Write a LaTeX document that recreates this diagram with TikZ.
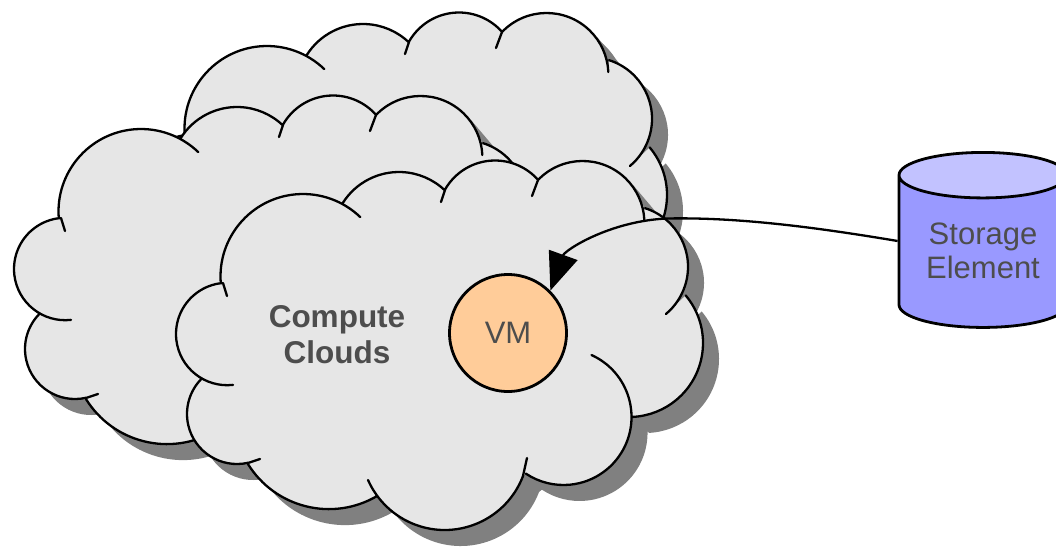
\documentclass[tikz,border=0pt]{standalone}
\usepackage{fontspec}
\setmainfont{Liberation Sans}
\usetikzlibrary{shapes.geometric,arrows.meta}
\definecolor{cloudfill}{HTML}{E6E6E6}
\definecolor{shadowgray}{HTML}{808080}
\definecolor{labelgray}{HTML}{4D4D4D}
\definecolor{vmfill}{HTML}{FFCC99}
\definecolor{cylbody}{HTML}{9999FF}
\definecolor{cyltop}{HTML}{C2C2FF}
\newcommand\lobe[5]{({#1+#3*cos(#4)},{#2+#3*sin(#4)}) arc[start angle=#4,end angle=#5,radius=#3]}
\edef\cloudOutline{%
 \lobe{303}{276.5}{82.5}{175.4}{314} --
 \lobe{399}{238.5}{66.5}{212.4}{313.5} --
 \lobe{495}{218}{57.5}{209}{318.5} --
 \lobe{582.6}{222.8}{61.8}{224}{357.4} --
 \lobe{626.5}{266.8}{61.5}{-72.5}{50.1} --
 \lobe{629}{343}{74}{-40}{87} --
 \lobe{563.5}{417}{68}{-65.7}{123.6} --
 \lobe{444.7}{446.2}{83.8}{20.8}{156.2} --
 \lobe{328.9}{413.9}{95.2}{59.6}{148.2} --
 \lobe{237}{414}{50}{77.3}{225} --
 \lobe{227.2}{334}{51.2}{83.5}{264.2} -- cycle}
\edef\cloudStrokes{%
 \lobe{303}{276.5}{82.5}{175.4}{314}
 \lobe{399}{238.5}{66.5}{212.4}{313.5}
 \lobe{495}{218}{57.5}{209}{318.5}
 \lobe{582.6}{222.8}{61.8}{224}{357.4}
 \lobe{626.5}{266.8}{61.5}{-72.5}{50.1}
 \lobe{629}{343}{74}{-40}{87}
 \lobe{563.5}{417}{68}{-65.7}{123.6}
 \lobe{444.7}{446.2}{83.8}{20.8}{156.2}
 \lobe{328.9}{413.9}{95.2}{59.6}{148.2}
 \lobe{237}{414}{50}{77.3}{225}
 \lobe{227.2}{334}{51.2}{83.5}{264.2}
 (227,296) -- (223,283)
 (441,202) -- (445,190)
 (532,196) -- (538,180)
 (527,458) -- (523,476)
 (260,459) -- (248,463)}
\newcommand\cloudShadow[2]{\begin{scope}[shift={(#1,#2)},shift={(16,16)}]\fill[shadowgray] \cloudOutline;\end{scope}}
\newcommand\cloudBody[2]{%
  \begin{scope}[shift={(#1,#2)}]
    \fill[cloudfill] \cloudOutline;
    \fill[shadowgray] (633,185) -- (655,211) -- (645,209) -- cycle;
    \draw[cloudline] \cloudStrokes;
  \end{scope}}
\tikzset{
  cloudline/.style={black,line width=2.3pt,line cap=round,line join=round},
  lbl/.style={text=labelgray,align=center,font=\fontsize{31}{34}\selectfont,inner sep=0pt},
  vmnode/.style={circle,draw=black,line width=2.8pt,fill=vmfill,minimum size=117pt,inner sep=0pt},
  storenode/.style={cylinder,shape border rotate=90,draw=black,line width=2.8pt,aspect=0.4,
    cylinder uses custom fill,cylinder body fill=cylbody,cylinder end fill=cyltop,
    minimum width=168pt,minimum height=175pt,inner sep=0pt},
  link/.style={black,line width=2.3pt,-{Triangle[length=38pt,width=30pt]}}
}
\begin{document}
\begin{tikzpicture}[x=1pt,y=-1pt]
\useasboundingbox (0,0) rectangle (1056,546);
\fill[white] (0,0) rectangle (1056,546);
\clip (0,0) rectangle (1056,546);
\cloudShadow{-36}{-148}
\cloudShadow{-162}{-65}
\cloudShadow{0}{0}
\cloudBody{-36}{-148}
\cloudBody{-162}{-65}
\cloudBody{0}{0}
\node[lbl,font=\fontsize{31.5}{36}\selectfont\bfseries] (clouds) at (337,335) {Compute\\Clouds};
\node[vmnode,lbl,draw=black] (vm) at (508,333) {VM};
\node[storenode,lbl,draw=black] (store) at (983,252) {\phantom{Storage}\\\phantom{Element}};
\node[lbl] (storelabel) at (983,251) {Storage\\Element};
\draw[link] ([yshift=11pt]store.west) .. controls (820,228) and (740,217) .. (667,218.5)
  .. controls (610,221) and (565,250) .. (vm.45);
\end{tikzpicture}
\end{document}
